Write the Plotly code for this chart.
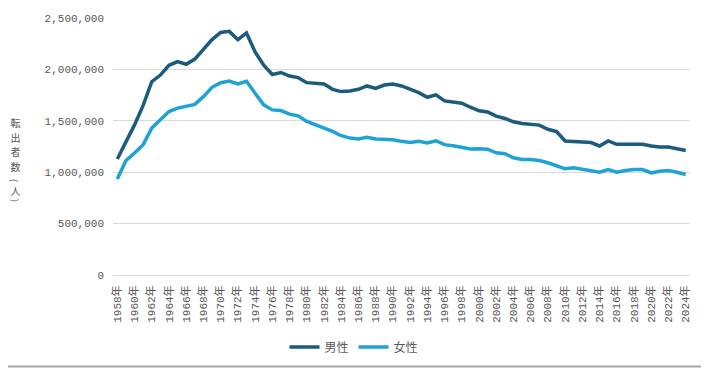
import plotly.graph_objects as go

years = list(range(1958, 2025))
men = [1129000, 1290000, 1460000, 1650000, 1880000, 1945000, 2040000, 2075000, 2050000, 2100000,
       2190000, 2290000, 2360000, 2370000, 2290000, 2355000, 2170000, 2040000, 1950000, 1970000,
       1935000, 1920000, 1871000, 1865000, 1858000, 1806000, 1784000, 1790000, 1806000, 1839000,
       1816000, 1848000, 1858000, 1839000, 1810000, 1774000, 1729000, 1752000, 1694000, 1684000,
       1671000, 1632000, 1597000, 1586000, 1546000, 1523000, 1490000, 1474000, 1464000, 1458000,
       1418000, 1395000, 1304000, 1297000, 1297000, 1288000, 1255000, 1304000, 1271000, 1271000,
       1271000, 1271000, 1255000, 1245000, 1245000, 1229000, 1212000]
women = [935000, 1113000, 1187000, 1268000, 1429000, 1510000, 1590000, 1623000, 1639000, 1660000,
         1735000, 1826000, 1871000, 1887000, 1858000, 1884000, 1768000, 1655000, 1606000, 1600000,
         1565000, 1548000, 1494000, 1461000, 1435000, 1397000, 1355000, 1332000, 1323000, 1339000,
         1323000, 1323000, 1316000, 1300000, 1290000, 1300000, 1284000, 1306000, 1268000, 1258000,
         1245000, 1226000, 1227000, 1224000, 1189000, 1180000, 1140000, 1124000, 1124000, 1114000,
         1092000, 1065000, 1033000, 1042000, 1026000, 1016000, 1000000, 1026000, 1000000, 1016000,
         1026000, 1026000, 993000, 1010000, 1016000, 1000000, 977000]
series_names = ["男性", "女性"]
tick_years = years[::2]
tick_labels = [f"{y}年" for y in tick_years]
y_title_chars = ["転", "出", "者", "数", "(", "人", ")"]

DARK = "#1B5B7D"
LIGHT = "#1FA2D6"
GRAY = "#595959"

# the page body has an 8px default margin, so the figure sits at (8, 8)
OFF = 8
W, H = 709 - OFF, 368 - OFF
ML, MT = 113 - OFF, 18 - OFF
MR = W - (690 - OFF)
MB = H - (275 - OFF)
PW, PH = W - ML - MR, H - MT - MB


def px_x(x):  # screen pixel -> paper fraction
    return (x - OFF - ML) / PW


def px_y(y):
    return (H - MB - (y - OFF)) / PH


fig = go.Figure()
fig.add_trace(go.Scatter(x=years, y=men, mode="lines", name=series_names[0],
                         line=dict(color=DARK, width=3.5)))
fig.add_trace(go.Scatter(x=years, y=women, mode="lines", name=series_names[1],
                         line=dict(color=LIGHT, width=3.5)))

fig.update_layout(
    width=W, height=H,
    margin=dict(l=ML, r=MR, t=MT, b=MB, autoexpand=False),
    paper_bgcolor="white", plot_bgcolor="white",
    font=dict(family="Liberation Mono, Noto Sans CJK JP", size=11, color=GRAY),
    showlegend=True,
    legend=dict(orientation="h", xref="container", yref="container",
                x=(354 - OFF) / W, xanchor="center", y=(H - (347 - OFF)) / H, yanchor="middle",
                font=dict(family="Noto Sans CJK JP", size=12, color=GRAY),
                itemwidth=30, tracegroupgap=0),
    xaxis=dict(range=[1957.5, 2024.5], tickmode="array", tickvals=tick_years,
               ticktext=tick_labels, tickangle=-90, showgrid=False, automargin=False,
               showline=True, linecolor="#d9d9d9", linewidth=1, ticks="",
               zeroline=False, ticklabelstandoff=5,
               tickfont=dict(family="Liberation Mono, Noto Sans CJK JP", size=11, color=GRAY)),
    yaxis=dict(range=[0, 2500000], tick0=0, dtick=500000, tickformat=",",
               showgrid=True, gridcolor="#d9d9d9", gridwidth=1, zeroline=False,
               ticks="", ticklabelstandoff=8, automargin=False,
               tickfont=dict(family="Liberation Mono, Noto Sans CJK JP", size=11, color=GRAY)),
)

# vertical y-axis title, one character per annotation
char_y = [122, 137, 152, 167, 180, 190, 200]
for ch, py in zip(y_title_chars, char_y):
    fig.add_annotation(text=ch, xref="paper", yref="paper",
                       x=px_x(15), y=px_y(py), height=11, width=13,
                       xanchor="center", yanchor="middle", showarrow=False,
                       textangle=90 if ch in "()" else 0,
                       font=dict(family="Noto Sans CJK JP", size=10, color=GRAY))

# outer chart border (right and bottom visible within the figure)
fig.add_shape(type="line", xref="paper", yref="paper",
              x0=px_x(OFF), x1=px_x(708), y0=px_y(366.5), y1=px_y(366.5),
              line=dict(color="#a6a6a6", width=2))
fig.add_shape(type="line", xref="paper", yref="paper",
              x0=px_x(706.5), x1=px_x(706.5), y0=px_y(OFF), y1=px_y(366),
              line=dict(color="#d9d9d9", width=1))

fig.write_html("out.html")
